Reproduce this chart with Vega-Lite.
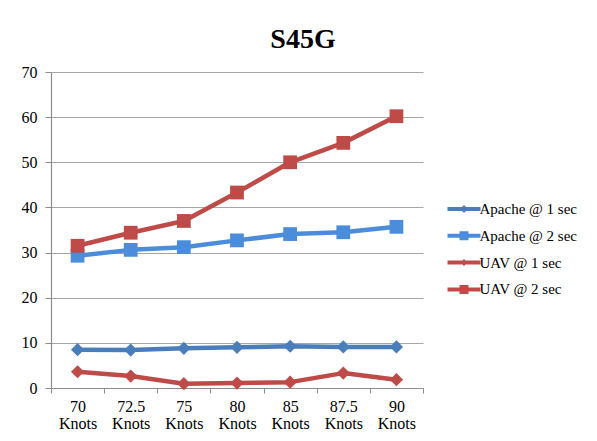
{
  "$schema": "https://vega.github.io/schema/vega-lite/v6.json",
  "autosize": "none",
  "width": 372,
  "height": 316,
  "padding": {"left": 51, "top": 72, "right": 174, "bottom": 53},
  "background": "white",
  "title": {
    "text": "S45G",
    "font": "Liberation Serif",
    "fontSize": 28,
    "fontWeight": "bold",
    "color": "#000000",
    "anchor": "middle",
    "dx": 66,
    "dy": 36,
    "baseline": "alphabetic",
    "offset": 24
  },
  "data": {
    "values": [
      {"speed": "70 Knots", "series": "Apache @ 1 sec", "value": 8.5},
      {"speed": "72.5 Knots", "series": "Apache @ 1 sec", "value": 8.4},
      {"speed": "75 Knots", "series": "Apache @ 1 sec", "value": 8.8},
      {"speed": "80 Knots", "series": "Apache @ 1 sec", "value": 9.0},
      {"speed": "85 Knots", "series": "Apache @ 1 sec", "value": 9.25},
      {"speed": "87.5 Knots", "series": "Apache @ 1 sec", "value": 9.1},
      {"speed": "90 Knots", "series": "Apache @ 1 sec", "value": 9.1},
      {"speed": "70 Knots", "series": "Apache @ 2 sec", "value": 29.3},
      {"speed": "72.5 Knots", "series": "Apache @ 2 sec", "value": 30.6},
      {"speed": "75 Knots", "series": "Apache @ 2 sec", "value": 31.2},
      {"speed": "80 Knots", "series": "Apache @ 2 sec", "value": 32.7},
      {"speed": "85 Knots", "series": "Apache @ 2 sec", "value": 34.1},
      {"speed": "87.5 Knots", "series": "Apache @ 2 sec", "value": 34.5},
      {"speed": "90 Knots", "series": "Apache @ 2 sec", "value": 35.7},
      {"speed": "70 Knots", "series": "UAV @ 1 sec", "value": 3.6},
      {"speed": "72.5 Knots", "series": "UAV @ 1 sec", "value": 2.65},
      {"speed": "75 Knots", "series": "UAV @ 1 sec", "value": 0.95},
      {"speed": "80 Knots", "series": "UAV @ 1 sec", "value": 1.1},
      {"speed": "85 Knots", "series": "UAV @ 1 sec", "value": 1.3},
      {"speed": "87.5 Knots", "series": "UAV @ 1 sec", "value": 3.3},
      {"speed": "90 Knots", "series": "UAV @ 1 sec", "value": 1.85},
      {"speed": "70 Knots", "series": "UAV @ 2 sec", "value": 31.5},
      {"speed": "72.5 Knots", "series": "UAV @ 2 sec", "value": 34.4},
      {"speed": "75 Knots", "series": "UAV @ 2 sec", "value": 37.0},
      {"speed": "80 Knots", "series": "UAV @ 2 sec", "value": 43.3},
      {"speed": "85 Knots", "series": "UAV @ 2 sec", "value": 50.0},
      {"speed": "87.5 Knots", "series": "UAV @ 2 sec", "value": 54.3},
      {"speed": "90 Knots", "series": "UAV @ 2 sec", "value": 60.2}
    ]
  },
  "encoding": {
    "x": {
      "field": "speed",
      "type": "nominal",
      "sort": null,
      "scale": {"type": "band", "paddingInner": 0, "paddingOuter": 0},
      "axis": {
        "title": null,
        "labelAngle": 0,
        "labelExpr": "split(datum.label, ' ')",
        "labelLineHeight": 17,
        "labelFontSize": 16,
        "labelPadding": 5,
        "tickBand": "extent",
        "tickSize": 5,
        "grid": false
      }
    },
    "y": {
      "field": "value",
      "type": "quantitative",
      "scale": {"domain": [0, 70], "nice": false},
      "axis": {
        "title": null,
        "values": [0, 10, 20, 30, 40, 50, 60, 70],
        "labelFontSize": 16,
        "labelPadding": 8,
        "tickSize": 6,
        "grid": true
      }
    },
    "color": {
      "field": "series",
      "type": "nominal",
      "scale": {
        "domain": ["Apache @ 1 sec", "Apache @ 2 sec", "UAV @ 1 sec", "UAV @ 2 sec"],
        "range": ["#4A7EBB", "#4B8DDB", "#BE4B48", "#BE4B48"]
      },
      "legend": {
        "title": null,
        "orient": "none",
        "legendX": 405.5,
        "legendY": 129.5,
        "padding": 0,
        "symbolSize": 100,
        "labelOffset": 8,
        "labelFontSize": 15,
        "labelFont": "Liberation Serif",
        "labelColor": "#000000",
        "rowPadding": 10.8,
        "symbolStrokeWidth": 0,
        "encode": {
          "symbols": {
            "update": {
              "shape": {
                "signal": "datum.value === 'Apache @ 1 sec' ? 'M-3.3,-0.4H-0.4L0,-0.8L0.4,-0.4H3.3V0.4H0.4L0,0.8L-0.4,0.4H-3.3Z' : datum.value === 'UAV @ 1 sec' ? 'M-3.3,-0.4H-0.3L0,-0.7L0.3,-0.4H3.3V0.4H0.3L0,0.7L-0.3,0.4H-3.3Z' : 'M-3.3,-0.4H-0.9V-0.9H0.9V-0.4H3.3V0.4H0.9V0.9H-0.9V0.4H-3.3Z'"
              },
              "fill": {"scale": "color", "field": "value"},
              "fillOpacity": {"value": 1},
              "strokeWidth": {"value": 0}
            }
          }
        }
      }
    }
  },
  "layer": [
    {
      "mark": {"type": "line", "strokeWidth": 4.5, "strokeJoin": "round"}
    },
    {
      "transform": [{"filter": "indexof(datum.series, '1 sec') >= 0"}],
      "mark": {"type": "point", "shape": "diamond", "filled": true, "opacity": 1, "size": 175}
    },
    {
      "transform": [{"filter": "indexof(datum.series, '2 sec') >= 0"}],
      "mark": {"type": "point", "shape": "square", "filled": true, "opacity": 1, "size": 190}
    }
  ],
  "config": {
    "font": "Liberation Serif",
    "view": {"stroke": null},
    "axis": {
      "labelFont": "Liberation Serif",
      "labelColor": "#000000",
      "domainColor": "#8C8C8C",
      "tickColor": "#8C8C8C",
      "gridColor": "#A6A6A6",
      "gridWidth": 1,
      "domainWidth": 1.2
    }
  }
}
